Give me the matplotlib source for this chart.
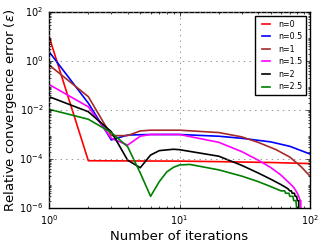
import numpy as np
from matplotlib import pyplot as plt

plt.style.use("classic")
plt.rcParams["mathtext.fontset"] = "dejavusans"

# iterations and relative convergence error, per n
x_n0 = [1, 2, 5, 10, 20, 50, 100]
y_n0 = [10.0, 8.5e-5, 8.3e-5, 8.2e-5, 7.8e-5, 7.2e-5, 6.5e-5]

x_n05 = [1, 2, 3, 4, 6, 10, 20, 30, 50, 70, 100]
y_n05 = [2.4, 0.019, 6e-4, 9.5e-4, 1e-3, 1e-3, 8.5e-4, 7e-4, 5e-4, 3.3e-4, 1.6e-4]

x_n1 = [1, 2, 3, 4, 5, 6, 10, 20, 30, 40, 55, 70, 85, 100]
y_n1 = [0.69, 0.035, 9e-4, 9e-4, 1.4e-3, 1.5e-3, 1.5e-3, 1.2e-3, 8e-4, 4.8e-4,
        2.4e-4, 1.2e-4, 5e-5, 2e-5]

x_n15 = [1, 2, 3, 4, 5, 6, 10, 20, 30, 40, 50, 60, 70, 75, 78, 80, 82, 84, 85, 86, 100]
y_n15 = [0.11, 0.0135, 7e-4, 3.7e-4, 8.5e-4, 1e-3, 1e-3, 4.8e-4, 2e-4, 9e-5,
         4.5e-5, 2.2e-5, 1e-5, 7e-6, 5e-6, 4e-6, 3e-6, 2e-6, 2e-6, 0, 0]

x_n2 = [1, 2, 3, 4, 5, 6, 7, 9, 10, 20, 30, 40, 50, 60, 65, 68, 70, 72, 73, 76,
        77, 79, 80, 82, 83, 100]
y_n2 = [0.035, 0.0085, 1.3e-3, 9e-5, 4.4e-5, 1.45e-4, 2.2e-4, 2.5e-4, 2.4e-4,
        1.3e-4, 5.5e-5, 2.7e-5, 1.5e-5, 9e-6, 7e-6, 6e-6, 5e-6, 5e-6, 4e-6, 4e-6,
        3e-6, 3e-6, 2e-6, 2e-6, 0, 0]

x_n25 = [1, 2, 3, 4, 5, 6, 7, 8, 9, 10, 12, 20, 30, 40, 50, 60, 64, 65, 69, 70,
         74, 75, 78, 79, 80, 81, 100]
y_n25 = [0.0107, 4.2e-3, 1.2e-3, 3.2e-4, 2.7e-5, 3e-6, 1.2e-5, 3e-5, 4.6e-5,
         5.7e-5, 6e-5, 3.6e-5, 2e-5, 1.2e-5, 7.5e-6, 5e-6, 5e-6, 4e-6, 4e-6, 3e-6,
         3e-6, 2e-6, 2e-6, 1e-6, 1e-6, 0, 0]

series = [
    ("n=0", x_n0, y_n0, "red"),
    ("n=0.5", x_n05, y_n05, "blue"),
    ("n=1", x_n1, y_n1, "brown"),
    ("n=1.5", x_n15, y_n15, "magenta"),
    ("n=2", x_n2, y_n2, "black"),
    ("n=2.5", x_n25, y_n25, "green"),
]

fig = plt.figure(figsize=(3.27, 2.45), dpi=100)
ax = fig.add_axes([0.15, 0.151, 0.798, 0.8])

for label, xs, ys, col in series:
    ax.loglog(xs, ys, color=col, lw=1.2, label=label)

ax.set_xlim(1, 100)
ax.set_ylim(1e-6, 1e2)
ax.set_yticks([1e-6, 1e-4, 1e-2, 1e0, 1e2])
ax.grid(True, which="major", color="0.5", linestyle=":", lw=0.6)
ax.tick_params(labelsize=7)
ax.tick_params(which="major", length=3)
ax.tick_params(which="minor", length=1.5)
ax.set_xlabel("Number of iterations", fontsize=9.5, labelpad=2)
ax.set_ylabel(r"Relative convergence error ($\epsilon$)", fontsize=9.5, labelpad=0)
ax.legend(loc="upper right", fontsize=5.7, fancybox=False, handlelength=1.6,
          labelspacing=0.45, borderpad=0.5, borderaxespad=0.45, frameon=True)

fig.savefig("out.png", dpi=100)
